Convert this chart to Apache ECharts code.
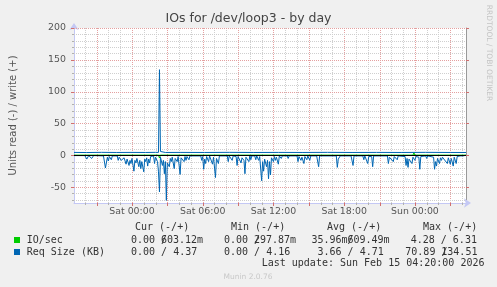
<!DOCTYPE html>
<html><head><meta charset="utf-8">
<script src="https://cdn.jsdelivr.net/npm/echarts@6/dist/echarts.min.js"></script>
<style>html,body{margin:0;padding:0;background:#f0f0f0;}#c{width:497px;height:287px;}</style>
</head><body><div id="c"></div>
<script>
// time unit: 5-minute slots relative to Sat 00:00
const xMin = -59, xMax = 340;
const xTickVals = [0, 72, 144, 216, 288];
const xTickLabels = ['Sat 00:00', 'Sat 06:00', 'Sat 12:00', 'Sat 18:00', 'Sun 00:00'];
const yTickVals = [-50, 0, 50, 100, 150, 200];

// Req Size (KB) write (+)
const reqWriteT = [-59, -46, -31, -16, -1, 14, 24, 27, 28, 29, 31, 34, 49, 74, 99, 124, 149, 174, 199, 224, 249, 274, 299, 324, 340];
const reqWriteV = [4.5, 4.3, 4.6, 4.4, 4.5, 4.4, 4.6, 4.5, 134.51, 6, 5, 4.4, 4.5, 4.4, 4.6, 4.4, 4.5, 4.4, 4.6, 4.4, 4.5, 4.4, 4.6, 4.4, 4.37];

// Req Size (KB) read (-)
const reqReadT = [-59,-48,-46,-44,-42,-41,-39,-29,-27,-25,-24,-23,-21,-20,-15,-14,-13,-11,-9,-8,-6,-5,-3,-2,-1,0,2,3,4,5,7,8,9,10,12,13,14,15,16,17,18,19,21,22,23,24,26,27,28,29,31,32,33,34,35,36,38,39,40,41,43,44,46,47,49,50,53,54,55,56,58,59,70,71,72,73,74,75,76,78,79,81,82,83,85,86,88,89,97,98,99,101,102,103,106,107,108,110,111,112,114,115,116,118,119,120,121,122,125,126,127,129,130,131,132,133,134,135,137,138,139,140,141,142,144,145,146,147,149,150,152,153,158,159,160,168,169,170,172,173,175,176,178,179,181,182,188,190,191,208,209,210,212,223,225,226,235,236,237,239,240,241,244,245,246,260,261,262,264,266,267,269,270,271,278,279,280,281,282,283,285,286,288,289,292,293,294,299,300,301,307,308,309,310,311,313,314,315,316,318,321,322,324,325,327,328,330,331,333,334,336,337,340];
const reqReadV = [-0.5,-0.5,-6,-0.5,-1,-5,-0.5,-1,-20,-3,-9,-2,-7,-1,-1,-8,-3,-8,-10,-4,-14,-6,-16,-8,-13,-5,-25,-8,-12,-5,-18,-8,-21,-10,-26,-6,-10,-4,-17,-6,-12,-2,-5,-1,-13,-3,-10,-26,-57.6,-3,-16,-8,-29,-10,-70.89,-12,-18,-5,-10,-3,-21,-5,-10,-2,-30,-4,-10,-2,-8,-2,-7,-1,-1,-8,-2,-22,-6,-13,-2,-10,-1,-3,-14,-3,-35,-5,-13,-1,-1,-10,-1,-2,-8,-1,-2,-16,-2,-3,-12,-4,-8,-29,-3,-2,-10,-1,-7,-1,-1,-7,-1,-8,-2,-5,-40,-10,-25,-6,-18,-8,-37,-10,-31,-4,-10,-2,-8,-3,-14,-1,-5,-1,-1,-5,-1,-1,-10,-2,-8,-3,-13,-2,-7,-1,-8,-1,-1,-18,-1,-1,-19,-6,-1,-1,-16,-1,-1,-7,-1,-2,-13,-2,-2,-18,-1,-1,-13,-3,-4,-10,-2,-3,-7,-1,-2,-16,-5,-19,-6,-4,-13,-3,-8,-2,-3,-22,-2,-1,-5,-1,-3,-22,-10,-17,-5,-13,-4,-8,-3,-2,-13,-4,-14,-5,-17,-3,-13,-2,-5,-1,-4,-1,0];

// IO/sec write (+)
const ioWriteT = [-59, -2, -1, 0, 27, 28, 29, 72, 73, 74, 119, 120, 121, 134, 135, 136, 286, 287, 288, 340];
const ioWriteV = [0, 0, 2, 0, 0, 3, 0, 0, 2, 0, 0, 2, 0, 0, 1.5, 0, 0, 4, 0, 0];
// IO/sec read (-)
const ioReadT = [-59, 27, 28, 29, 340];
const ioReadV = [0, 0, -4.28, 0, 0];

const legendNames = ['IO/sec', 'Req Size (KB)'];
const legendColors = ['#00cc00', '#0066b3'];
const colHeaders = ['Cur (-/+)', 'Min (-/+)', 'Avg (-/+)', 'Max (-/+)'];
const row1 = [['0.00 /', '603.12m'], ['0.00 /', '297.87m'], ['35.96m/', '609.49m'], ['4.28 / 6.31', '']];
const row2 = [['0.00 / 4.37', ''], ['0.00 / 4.16', ''], ['3.66 / 4.71', ''], ['70.89 /', '134.51']];
const lastUpdate = 'Last update: Sun Feb 15 04:20:00 2026';
const titleText = 'IOs for /dev/loop3 - by day';
const yName = 'Units read (-) / write (+)';
const sideText = 'RRDTOOL / TOBI OETIKER';
const footer = 'Munin 2.0.76';

function pairs(t, v) { return t.map((x, i) => [x, v[i]]); }

const yMin = -75, yMax = 200;
const GRID = '#cfcfcf', MGRID = '#e4a0a0';

// grid line positions (style only): [x, y, direction(0=vertical,1=horizontal), major]
const gridItems = [];
for (let u = -48; u <= xMax; u += 12) gridItems.push([u, yMin, 0, u % 36 === 0 ? 1 : 0]);
for (let v = -70; v <= yMax; v += 10) gridItems.push([xMin, v, 1, v % 50 === 0 ? 1 : 0]);

function renderGrid(params, api) {
  const dir = api.value(2), major = api.value(3);
  const col = major ? MGRID : GRID;
  const children = [];
  if (dir === 0) {
    const u = api.value(0);
    const b = api.coord([u, yMin]), t = api.coord([u, yMax]);
    const x = Math.round(b[0]) + 0.5;
    children.push({ type: 'line', shape: { x1: x, y1: Math.round(t[1]), x2: x, y2: Math.round(b[1]) }, style: { stroke: col, lineWidth: 1, lineDash: [1, 1] } });
    children.push({ type: 'line', shape: { x1: x, y1: Math.round(b[1]), x2: x, y2: Math.round(b[1]) + (major ? 3 : 2) }, style: { stroke: major ? '#d07070' : '#b0b0b0', lineWidth: 1 } });
  } else {
    const v = api.value(1);
    const l = api.coord([xMin, v]), r = api.coord([xMax, v]);
    const y = Math.round(l[1]) + 0.5;
    children.push({ type: 'line', shape: { x1: Math.round(l[0]), y1: y, x2: Math.round(r[0]), y2: y }, style: { stroke: col, lineWidth: 1, lineDash: [1, 1] } });
    children.push({ type: 'line', shape: { x1: Math.round(l[0]) - (major ? 3 : 2), y1: y, x2: Math.round(l[0]), y2: y }, style: { stroke: major ? '#d07070' : '#b0b0b0', lineWidth: 1 } });
    if (major) children.push({ type: 'line', shape: { x1: Math.round(r[0]), y1: y, x2: Math.round(r[0]) + 3, y2: y }, style: { stroke: '#d07070', lineWidth: 1 } });
  }
  return { type: 'group', children: children };
}

function renderZero(params, api) {
  const l = api.coord([xMin, 0]), r = api.coord([xMax, 0]);
  const y = Math.round(l[1]) + 0.5;
  return { type: 'line', shape: { x1: Math.round(l[0]), y1: y, x2: Math.round(r[0]), y2: y }, style: { stroke: '#000', lineWidth: 1 } };
}

const mono = '10px "DejaVu Sans Mono"';
const txtCol = '#333';
const graphics = [];
function T(x, y, text, font, fill, align) {
  graphics.push({ type: 'text', x: x, y: y, silent: true, style: { text: text, font: font || mono, fill: fill || txtCol, verticalAlign: 'middle', textAlign: align || 'left' } });
}
const colX = [135, 231, 327, 423];
const r1X = [[131, 161], [224, 254], [311.5, 347.5], [410.7, 0]];
const r2X = [[131, 0], [224, 0], [317.5, 0], [405.3, 441.3]];
colHeaders.forEach((h, i) => T(colX[i], 227, h));
legendNames.forEach((n, i) => {
  graphics.push({ type: 'rect', shape: { x: 14, y: 237 + 12 * i, width: 6, height: 6 }, style: { fill: legendColors[i] }, silent: true });
  T(26.7, 240 + 12 * i, n);
});
row1.forEach((c, i) => { T(r1X[i][0], 240, c[0]); if (c[1]) T(r1X[i][1], 240, c[1]); });
row2.forEach((c, i) => { T(r2X[i][0], 252, c[0]); if (c[1]) T(r2X[i][1], 252, c[1]); });
T(261.7, 263.5, lastUpdate);
T(248, 277, footer, '7.5px "DejaVu Sans"', '#c8c8c8', 'center');
graphics.push({ type: 'text', x: 489, y: 53, rotation: -Math.PI / 2, silent: true,
  style: { text: sideText, font: '7.5px "DejaVu Sans"', fill: '#c4c4c4', textAlign: 'center', verticalAlign: 'middle' } });

const chart = echarts.init(document.getElementById('c'), null, { renderer: 'canvas' });
chart.setOption({
  animation: false,
  backgroundColor: '#f0f0f0',
  textStyle: { fontFamily: 'DejaVu Sans' },
  title: { text: titleText, left: 'center', top: 12, textStyle: { fontSize: 12.5, fontWeight: 'normal', color: '#444', fontFamily: 'DejaVu Sans' }, padding: 0 },
  grid: { left: 67, right: 31, top: 28, bottom: 84, show: true, backgroundColor: '#ffffff', borderWidth: 0, containLabel: false },
  xAxis: [{
    type: 'value', min: xMin, max: xMax, interval: 1,
    axisLine: { show: true, onZero: false, lineStyle: { color: '#c4c8f4', width: 1 }, symbol: ['none', 'arrow'], symbolSize: [7, 7], symbolOffset: [0, 5] },
    axisTick: { show: false },
    axisLabel: { show: true, interval: 0, margin: 4, fontSize: 9.4, color: '#555', fontFamily: 'DejaVu Sans', hideOverlap: false,
      formatter: v => { const k = xTickVals.indexOf(Math.round(v)); return (k >= 0 && Math.abs(v - xTickVals[k]) < 1e-6) ? xTickLabels[k] : ''; } },
    splitLine: { show: false }
  }],
  yAxis: [{
    type: 'value', min: yMin, max: yMax, interval: 5,
    name: yName, nameLocation: 'middle', nameGap: 56, nameRotate: 90,
    nameTextStyle: { fontSize: 10, color: '#555', fontFamily: 'DejaVu Sans' },
    axisLine: { show: true, onZero: false, lineStyle: { color: '#c4c8f4', width: 1 }, symbol: ['none', 'arrow'], symbolSize: [7, 7], symbolOffset: [0, 5] },
    axisTick: { show: false },
    axisLabel: { show: true, margin: 8, fontSize: 9.4, color: '#555', fontFamily: 'DejaVu Sans',
      formatter: v => (yTickVals.indexOf(Math.round(v)) >= 0 && Math.abs(v - Math.round(v)) < 1e-6) ? String(Math.round(v)) : '' },
    splitLine: { show: false }
  }, {
    type: 'value', min: yMin, max: yMax, position: 'right',
    axisLine: { show: true, onZero: false, lineStyle: { color: '#999', width: 1 } },
    axisTick: { show: false }, axisLabel: { show: false }, splitLine: { show: false }
  }],
  graphic: graphics,
  series: [
    { type: 'custom', name: 'grid', data: gridItems, renderItem: renderGrid, silent: true, z: 1, clip: false,
      encode: { x: 0, y: 1 } },
    { type: 'line', name: 'IO/sec read', data: pairs(ioReadT, ioReadV), showSymbol: false, symbol: 'none', lineStyle: { color: '#00cc00', width: 1 }, z: 2 },
    { type: 'line', name: 'IO/sec write', data: pairs(ioWriteT, ioWriteV), showSymbol: false, symbol: 'none', lineStyle: { color: '#00cc00', width: 1 }, z: 2 },
    { type: 'line', name: 'Req read', data: pairs(reqReadT, reqReadV), showSymbol: false, symbol: 'none', lineStyle: { color: '#0066b3', width: 1 }, z: 3 },
    { type: 'line', name: 'Req write', data: pairs(reqWriteT, reqWriteV), showSymbol: false, symbol: 'none', lineStyle: { color: '#0066b3', width: 1 }, z: 3 },
    { type: 'custom', name: 'zero', data: [[0, 0]], renderItem: renderZero, silent: true, z: 5, clip: false, encode: { x: 0, y: 1 } }
  ]
});
</script>
</body></html>
